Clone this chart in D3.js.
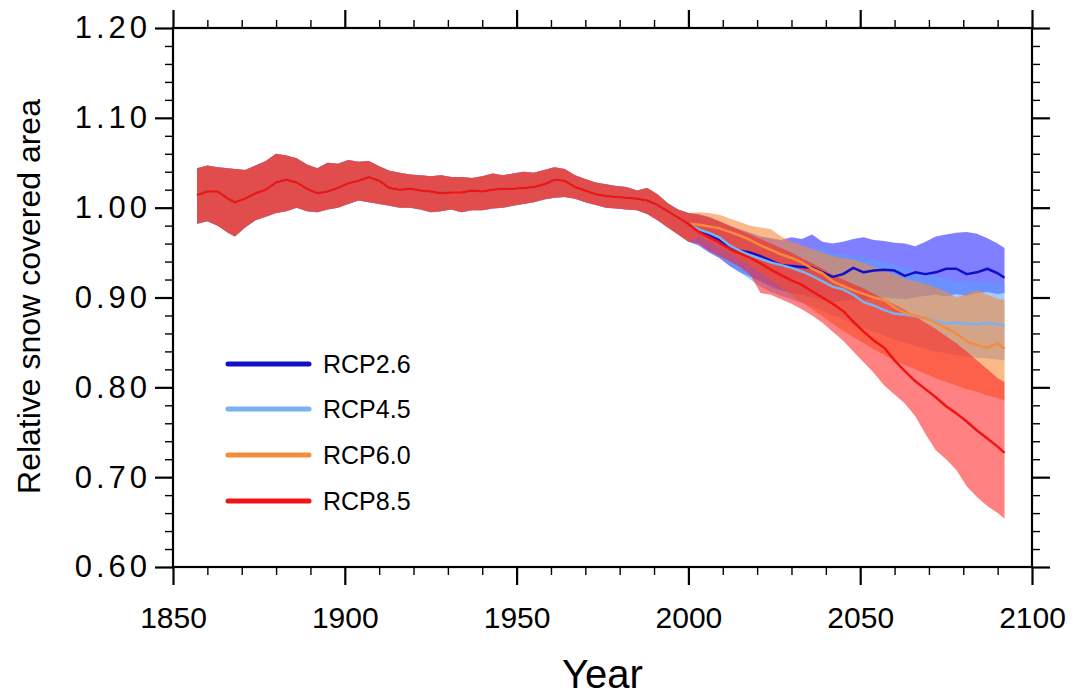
<!DOCTYPE html>
<html>
<head>
<meta charset="utf-8">
<script src="https://cdn.jsdelivr.net/npm/d3@7"></script>
<style>
  html, body { margin: 0; padding: 0; background: #ffffff; }
  svg { display: block; }
  text { font-family: "Liberation Sans", Arial, Helvetica, sans-serif; fill: #000; }
</style>
</head>
<body>
<svg id="chart" width="1074" height="697"></svg>
<script>
// ---------------- DATA ----------------
const scenarios = ["RCP2.6", "RCP4.5", "RCP6.0", "RCP8.5"];
const xTicks = [1850, 1900, 1950, 2000, 2050, 2100];
const yTicks = [0.60, 0.70, 0.80, 0.90, 1.00, 1.10, 1.20];

// historical period (shared by all scenarios)
const histYears = [1857,1860,1863,1866,1868,1871,1874,1877,1880,1883,1886,1889,1892,1895,1898,1901,1904,1907,1910,1913,1916,1919,1922,1925,1928,1931,1934,1937,1940,1943,1946,1949,1952,1955,1958,1961,1964,1967,1970,1973,1976,1979,1982,1985,1988,1991,1994,1997,2000];
const histMean  = [1.014,1.018,1.018,1.010,1.006,1.010,1.016,1.020,1.028,1.031,1.028,1.021,1.016,1.018,1.022,1.027,1.030,1.034,1.030,1.022,1.020,1.021,1.019,1.018,1.016,1.017,1.017,1.019,1.018,1.020,1.021,1.021,1.022,1.023,1.026,1.031,1.030,1.023,1.019,1.015,1.013,1.012,1.011,1.010,1.008,1.003,0.996,0.989,0.982];
const histUpper = [1.044,1.047,1.045,1.044,1.043,1.042,1.047,1.052,1.060,1.058,1.055,1.048,1.044,1.050,1.049,1.053,1.051,1.052,1.046,1.041,1.039,1.037,1.036,1.035,1.036,1.034,1.034,1.033,1.035,1.038,1.036,1.038,1.040,1.039,1.042,1.045,1.043,1.036,1.032,1.028,1.026,1.024,1.023,1.019,1.022,1.015,1.005,0.998,0.994];
const histLower = [0.982,0.985,0.980,0.972,0.968,0.978,0.986,0.990,0.994,0.996,1.000,0.996,0.995,0.998,1.000,1.004,1.008,1.006,1.004,1.002,1.000,1.000,0.998,0.995,0.996,0.998,0.995,0.997,0.997,0.999,1.000,1.002,1.004,1.006,1.009,1.011,1.012,1.010,1.006,1.003,1.000,0.999,0.998,0.997,0.993,0.986,0.978,0.970,0.962];

// future period
const futYears = [2003,2006,2009,2012,2015,2018,2021,2024,2027,2030,2033,2036,2039,2042,2045,2048,2051,2054,2057,2060,2063,2066,2069,2072,2075,2078,2081,2084,2087,2090,2092];

const rcp26Mean  = [0.975,0.970,0.964,0.955,0.952,0.950,0.946,0.941,0.936,0.935,0.934,0.933,0.928,0.923,0.926,0.933,0.928,0.930,0.931,0.930,0.924,0.928,0.926,0.928,0.932,0.932,0.926,0.928,0.932,0.927,0.922];
const rcp26Upper = [0.993,0.990,0.985,0.980,0.976,0.972,0.968,0.966,0.964,0.967,0.965,0.970,0.962,0.960,0.962,0.965,0.967,0.964,0.963,0.961,0.960,0.957,0.962,0.968,0.970,0.972,0.973,0.971,0.966,0.960,0.955];
const rcp26Lower = [0.958,0.950,0.944,0.935,0.928,0.923,0.918,0.912,0.908,0.905,0.903,0.900,0.897,0.895,0.896,0.898,0.897,0.899,0.900,0.899,0.898,0.900,0.902,0.903,0.901,0.904,0.902,0.905,0.906,0.904,0.905];

const rcp45Mean  = [0.976,0.972,0.967,0.958,0.952,0.947,0.943,0.939,0.936,0.933,0.929,0.924,0.918,0.912,0.909,0.903,0.895,0.891,0.886,0.882,0.881,0.879,0.877,0.874,0.871,0.872,0.871,0.870,0.872,0.870,0.869];
const rcp45Upper = [0.992,0.988,0.982,0.976,0.970,0.966,0.962,0.958,0.955,0.953,0.951,0.952,0.955,0.950,0.948,0.946,0.944,0.942,0.940,0.936,0.933,0.930,0.927,0.924,0.921,0.918,0.919,0.917,0.918,0.916,0.915];
const rcp45Lower = [0.962,0.955,0.946,0.936,0.928,0.920,0.912,0.906,0.902,0.898,0.894,0.890,0.885,0.880,0.876,0.870,0.866,0.862,0.858,0.853,0.850,0.846,0.843,0.840,0.838,0.836,0.834,0.833,0.832,0.831,0.830];

const rcp60Mean  = [0.981,0.979,0.977,0.973,0.969,0.964,0.958,0.953,0.948,0.944,0.939,0.932,0.927,0.918,0.913,0.908,0.904,0.900,0.897,0.889,0.883,0.880,0.877,0.872,0.866,0.860,0.851,0.847,0.844,0.849,0.843];
const rcp60Upper = [0.995,0.994,0.992,0.988,0.984,0.980,0.978,0.976,0.968,0.962,0.958,0.954,0.950,0.946,0.944,0.942,0.938,0.934,0.930,0.926,0.921,0.918,0.915,0.911,0.906,0.900,0.904,0.908,0.903,0.899,0.897];
const rcp60Lower = [0.968,0.962,0.956,0.949,0.942,0.935,0.927,0.919,0.911,0.903,0.895,0.887,0.879,0.871,0.863,0.856,0.849,0.842,0.836,0.830,0.825,0.820,0.815,0.810,0.806,0.802,0.798,0.795,0.791,0.788,0.785];

const rcp85Mean  = [0.973,0.967,0.961,0.954,0.949,0.944,0.938,0.931,0.925,0.919,0.914,0.907,0.900,0.893,0.885,0.873,0.862,0.852,0.844,0.830,0.818,0.807,0.798,0.789,0.779,0.771,0.762,0.752,0.743,0.734,0.727];
const rcp85Upper = [0.992,0.989,0.985,0.980,0.975,0.970,0.965,0.960,0.955,0.950,0.944,0.938,0.932,0.925,0.920,0.915,0.910,0.904,0.898,0.892,0.886,0.879,0.872,0.865,0.857,0.849,0.840,0.830,0.820,0.810,0.806];
const rcp85Lower = [0.960,0.952,0.946,0.940,0.934,0.925,0.905,0.903,0.898,0.893,0.887,0.880,0.872,0.862,0.852,0.840,0.828,0.816,0.802,0.792,0.782,0.768,0.748,0.730,0.720,0.708,0.690,0.678,0.668,0.660,0.654];

const lineColors = ["#1010c8", "#78b2f0", "#f58c3c", "#f01414"];
const bandColors = ["#3c3cff", "#5aa0ff", "#f58a3a", "#ff1a1a"];
const bandOpacity = [0.66, 0.55, 0.6, 0.55];

// ---------------- BUILD ----------------
const futMeans  = [rcp26Mean, rcp45Mean, rcp60Mean, rcp85Mean];
const futUppers = [rcp26Upper, rcp45Upper, rcp60Upper, rcp85Upper];
const futLowers = [rcp26Lower, rcp45Lower, rcp60Lower, rcp85Lower];

const series = scenarios.map((name, i) => {
  const pts = histYears.map((yr, j) => ({ year: yr, mean: histMean[j], lo: histLower[j], hi: histUpper[j] }))
    .concat(futYears.map((yr, j) => ({ year: yr, mean: futMeans[i][j], lo: futLowers[i][j], hi: futUppers[i][j] })));
  return { name, pts, color: lineColors[i], band: bandColors[i], op: bandOpacity[i] };
});

const svg = d3.select("#chart");
const L = 173, R = 1032, T = 28, B = 567;
const x = d3.scaleLinear().domain([1850, 2100]).range([L, R]);
const y = d3.scaleLinear().domain([0.6, 1.2]).range([B, T]);

// bands
const area = d3.area().x(d => x(d.year)).y0(d => y(d.lo)).y1(d => y(d.hi));
series.forEach(s => {
  svg.append("path").datum(s.pts).attr("d", area)
    .attr("fill", s.band).attr("fill-opacity", s.op).attr("stroke", "none");
});
// mean lines
const line = d3.line().x(d => x(d.year)).y(d => y(d.mean));
series.forEach(s => {
  svg.append("path").datum(s.pts).attr("d", line)
    .attr("fill", "none").attr("stroke", s.color).attr("stroke-width", 2.5)
    .attr("stroke-linejoin", "round");
});

// axes
const xMinor = d3.range(1850, 2101, 10).filter(v => !xTicks.includes(v));
const yMinor = d3.range(60, 121, 2).map(v => v / 100).filter(v => !yTicks.some(t => Math.abs(t - v) < 1e-9));

function styleAxis(g, w) {
  g.select(".domain").remove();
  g.selectAll(".tick line").attr("stroke", "#000").attr("stroke-width", w);
}
// minor
svg.append("g").attr("transform", `translate(0,${B})`)
  .call(d3.axisBottom(x).tickValues(xMinor).tickSize(8).tickFormat(""))
  .call(g => styleAxis(g, 1.4));
svg.append("g").attr("transform", `translate(0,${T})`)
  .call(d3.axisTop(x).tickValues(xMinor).tickSize(8).tickFormat(""))
  .call(g => styleAxis(g, 1.4));
svg.append("g").attr("transform", `translate(${L},0)`)
  .call(d3.axisLeft(y).tickValues(yMinor).tickSize(8).tickFormat(""))
  .call(g => styleAxis(g, 1.4));
svg.append("g").attr("transform", `translate(${R},0)`)
  .call(d3.axisRight(y).tickValues(yMinor).tickSize(8).tickFormat(""))
  .call(g => styleAxis(g, 1.4));
// major
svg.append("g").attr("transform", `translate(0,${B})`)
  .call(d3.axisBottom(x).tickValues(xTicks).tickSize(18).tickPadding(20).tickFormat(d3.format("d")))
  .call(g => { styleAxis(g, 2.2); g.selectAll("text").attr("font-size", 30).attr("font-family", null).attr("dy", "0.75em"); });
svg.append("g").attr("transform", `translate(0,${T})`)
  .call(d3.axisTop(x).tickValues(xTicks).tickSize(18).tickFormat(""))
  .call(g => styleAxis(g, 2.2));
svg.append("g").attr("transform", `translate(${L},0)`)
  .call(d3.axisLeft(y).tickValues(yTicks).tickSize(18).tickPadding(8).tickFormat(d3.format(".2f")))
  .call(g => { styleAxis(g, 2.2); g.selectAll("text").attr("font-size", 31).attr("font-family", null)
      .attr("letter-spacing", "4px").attr("dx", "4px"); });
svg.append("g").attr("transform", `translate(${R},0)`)
  .call(d3.axisRight(y).tickValues(yTicks).tickSize(18).tickFormat(""))
  .call(g => styleAxis(g, 2.2));

// frame
svg.append("rect").attr("x", L).attr("y", T).attr("width", R - L).attr("height", B - T)
  .attr("fill", "none").attr("stroke", "#000").attr("stroke-width", 2.2);

// axis titles
svg.append("text").attr("x", (L + R) / 2).attr("y", 688).attr("text-anchor", "middle")
  .attr("font-size", 40).text("Year");
svg.append("text").attr("transform", `translate(40,${(T + B) / 2 - 1}) rotate(-90)`)
  .attr("text-anchor", "middle").attr("font-size", 32).text("Relative snow covered area");

// legend
const legY = [364, 409, 455, 501];
series.forEach((s, i) => {
  svg.append("line").attr("x1", 228).attr("x2", 309).attr("y1", legY[i]).attr("y2", legY[i])
    .attr("stroke", s.color).attr("stroke-width", 5).attr("stroke-linecap", "round");
  svg.append("text").attr("x", 323).attr("y", legY[i]).attr("dy", "0.35em")
    .attr("font-size", 25).text(s.name);
});
</script>
</body>
</html>
